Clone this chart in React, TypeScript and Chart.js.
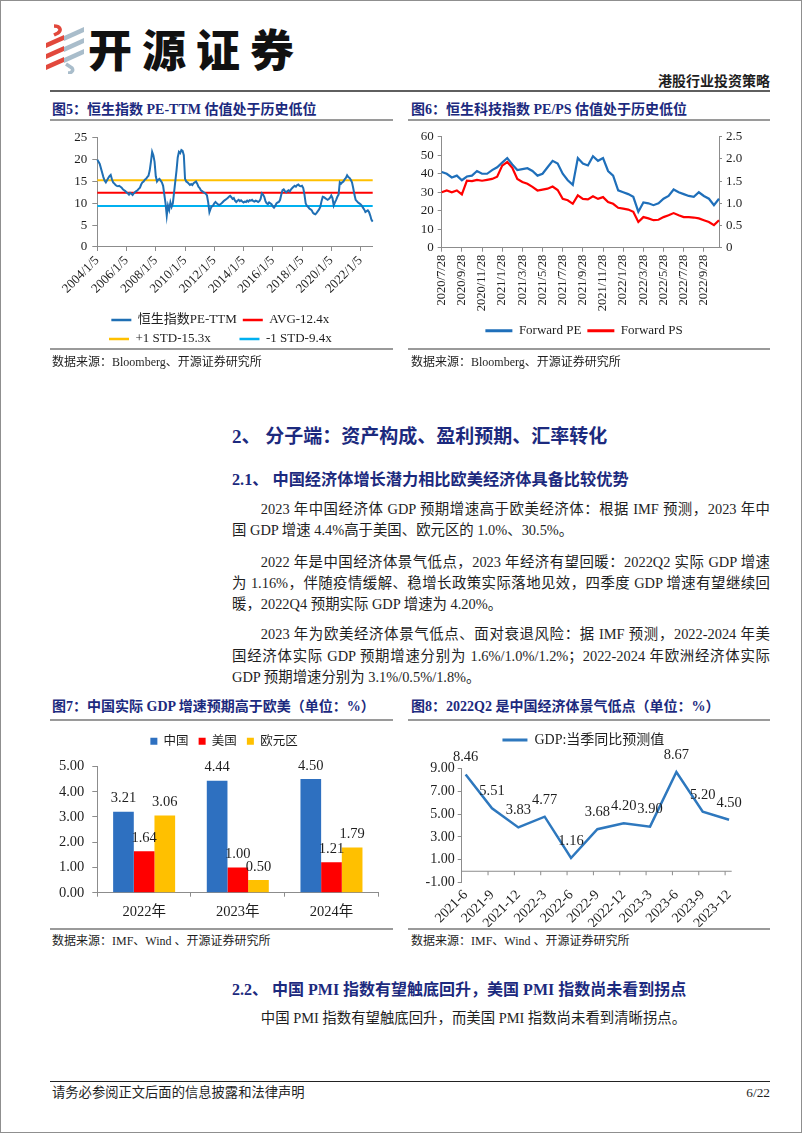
import React, { useEffect, useRef } from "react";
import { Chart, registerables } from "chart.js";

Chart.register(...registerables);

const SERIF = '"Liberation Serif", "Noto Sans CJK SC", serif';
const NAVY = "#1C2A7E";
const AXIS = "#8C8C8C";
const TXT = "#1E1E1E";
Chart.defaults.font.family = SERIF;

// ---------------- 图5 恒生指数 PE-TTM (monthly readings) ----------------
const peYears = [2004, 2005, 2006, 2007, 2008, 2009, 2010, 2011, 2012, 2013, 2014, 2015, 2016, 2017, 2018, 2019, 2020, 2021, 2022];
const pe2004 = [20.0, 19.5, 19.0, 18.0, 17.0, 16.0, 15.2, 14.8, 15.3, 15.8, 16.2, 16.5];
const pe2005 = [15.5, 14.8, 14.5, 14.2, 14.0, 13.9, 14.0, 13.8, 13.6, 13.2, 13.0, 12.8];
const pe2006 = [12.5, 12.3, 12.0, 12.4, 12.2, 11.9, 12.3, 12.6, 12.8, 13.0, 13.3, 13.6];
const pe2007 = [14.3, 14.8, 15.0, 15.4, 15.6, 16.0, 16.3, 17.5, 19.5, 21.8, 21.0, 19.5];
const pe2008 = [16.2, 15.0, 15.4, 15.6, 15.2, 14.8, 14.0, 12.0, 10.0, 7.2, 9.5, 8.5];
const pe2009 = [10.2, 9.2, 10.0, 12.5, 15.0, 17.5, 20.5, 21.8, 21.5, 22.2, 22.0, 21.0];
const pe2010 = [15.6, 15.0, 14.8, 14.5, 14.2, 14.4, 14.2, 14.6, 14.8, 15.0, 14.5, 13.8];
const pe2011 = [13.5, 13.0, 12.8, 12.6, 12.4, 12.2, 11.8, 10.2, 8.0, 8.8, 9.3, 9.5];
const pe2012 = [10.0, 10.3, 10.0, 9.8, 9.6, 9.8, 10.0, 10.3, 10.6, 10.8, 11.0, 11.2];
const pe2013 = [11.5, 11.7, 11.4, 11.0, 11.2, 10.6, 10.3, 10.6, 10.8, 10.5, 10.7, 10.4];
const pe2014 = [10.2, 10.4, 10.3, 10.6, 10.4, 10.7, 10.6, 10.8, 10.5, 10.4, 10.6, 10.5];
const pe2015 = [10.3, 10.5, 11.0, 12.3, 12.0, 11.5, 10.5, 10.0, 9.8, 10.2, 10.0, 9.8];
const pe2016 = [9.3, 9.0, 9.4, 10.0, 10.2, 10.3, 10.8, 12.0, 13.0, 13.2, 12.8, 12.5];
const pe2017 = [12.8, 13.0, 12.7, 13.2, 13.5, 13.8, 14.0, 13.8, 14.2, 14.3, 14.0, 13.9];
const pe2018 = [14.0, 13.5, 12.0, 10.0, 9.4, 9.2, 8.8, 8.6, 8.4, 7.8, 7.6, 7.5];
const pe2019 = [7.8, 8.2, 8.6, 9.2, 10.5, 11.5, 11.4, 11.2, 11.0, 10.8, 11.0, 11.3];
const pe2020 = [11.8, 11.2, 9.5, 10.2, 10.8, 11.5, 12.0, 14.8, 14.5, 14.8, 15.0, 15.5];
const pe2021 = [15.8, 16.4, 16.0, 15.8, 15.4, 14.8, 13.5, 12.0, 10.8, 10.5, 10.2, 10.0];
const pe2022 = [9.8, 9.5, 9.0, 8.6, 8.0, 8.2, 8.4, 8.0, 7.2, 6.2, 5.8];
const peByYear = [pe2004, pe2005, pe2006, pe2007, pe2008, pe2009, pe2010, pe2011, pe2012, pe2013, pe2014, pe2015, pe2016, pe2017, pe2018, pe2019, pe2020, pe2021, pe2022];
const peTickLabels = ["2004/1/5", "2006/1/5", "2008/1/5", "2010/1/5", "2012/1/5", "2014/1/5", "2016/1/5", "2018/1/5", "2020/1/5", "2022/1/5"];
const PE_AVG = 12.4;
const PE_UP = 15.3;
const PE_DOWN = 9.4;

const peLabels: string[] = [];
const peValues: number[] = [];
peYears.forEach((yr, k) =>
  peByYear[k].forEach((v, m) => {
    peLabels.push(`${yr}/${m + 1}/5`);
    peValues.push(v);
  })
);

// ---------------- 图6 恒生科技指数 Forward PE / PS (semi-monthly readings) ----------------
const techPE2020 = [41, 40, 38, 39, 36.5, 38.5, 39, 41.5, 40, 40, 42];
const techPE2021 = [43.5, 46, 48.5, 45, 42, 42.5, 43, 41.5, 39, 40, 43.5, 47, 45.5, 40, 36.5, 34, 48.5, 45.5, 44.5, 49.5, 47, 48.5, 41.5, 39];
const techPE2022 = [31, 30, 29, 27.5, 19.5, 24.5, 24, 23, 24, 26.5, 28, 31.5, 30, 29, 28, 27.5, 30, 28, 26.5, 23, 26.5];
const techPS2020 = [1.25, 1.29, 1.25, 1.29, 1.2, 1.51, 1.5, 1.53, 1.51, 1.53, 1.55];
const techPS2021 = [1.6, 1.85, 1.93, 1.8, 1.55, 1.48, 1.44, 1.37, 1.29, 1.31, 1.33, 1.38, 1.3, 1.1, 1.07, 0.99, 1.18, 1.1, 1.09, 1.16, 1.1, 1.14, 1.03, 0.99];
const techPS2022 = [0.9, 0.88, 0.86, 0.81, 0.58, 0.69, 0.66, 0.62, 0.63, 0.69, 0.73, 0.78, 0.73, 0.69, 0.69, 0.68, 0.66, 0.62, 0.58, 0.51, 0.62];
const techTickLabels = ["2020/7/28", "2020/9/28", "2020/11/28", "2021/1/28", "2021/3/28", "2021/5/28", "2021/7/28", "2021/9/28", "2021/11/28", "2022/1/28", "2022/3/28", "2022/5/28", "2022/7/28", "2022/9/28"];
const techPE = [...techPE2020, ...techPE2021, ...techPE2022];
const techPS = [...techPS2020, ...techPS2021, ...techPS2022];
const techLabels: string[] = ["2020/7/28"];
{
  let y = 2020;
  let m = 8;
  while (y < 2022 || (y === 2022 && m <= 11)) {
    techLabels.push(`${y}/${m}/13`);
    if (!(y === 2022 && m === 11)) techLabels.push(`${y}/${m}/28`);
    m++;
    if (m > 12) {
      m = 1;
      y++;
    }
  }
}

// ---------------- 图7 GDP 增速预期 ----------------
const gdpYears = ["2022年", "2023年", "2024年"];
const gdpChina = [3.21, 4.44, 4.5];
const gdpUS = [1.64, 1.0, 1.21];
const gdpEuro = [3.06, 0.5, 1.79];

// ---------------- 图8 GDP 当季同比预测值 ----------------
const quarterLabels = ["2021-6", "2021-9", "2021-12", "2022-3", "2022-6", "2022-9", "2022-12", "2023-3", "2023-6", "2023-9", "2023-12"];
const quarterGDP = [8.46, 5.51, 3.83, 4.77, 1.16, 3.68, 4.2, 3.9, 8.67, 5.2, 4.5];

// ---------------- helpers ----------------
const font = (size: number) => ({ family: SERIF, size });
const lineLegendLabels = (chart: any) =>
  Chart.defaults.plugins.legend.labels.generateLabels(chart).map((it: any) => ({ ...it, lineWidth: 0, fillStyle: it.strokeStyle }));
const spacer = (size: number) => ({ display: true, text: "", position: "top", weight: 500, padding: 0, font: { size, lineHeight: 1.2 } });
const axisGrid = (tickLength: number) => ({ drawOnChartArea: false, drawTicks: true, tickLength, color: AXIS, tickColor: AXIS });

const legendShift = (dx: number) => ({
  id: "legendShift",
  afterLayout(chart: any) {
    const l = chart.legend;
    if (l) {
      l.left += dx;
      l.right += dx;
    }
  },
});

const barLabelPlugin = {
  id: "barLabels",
  afterDatasetsDraw(chart: any) {
    const { ctx } = chart;
    ctx.save();
    ctx.font = `14.5px ${SERIF}`;
    ctx.fillStyle = TXT;
    ctx.textAlign = "center";
    ctx.textBaseline = "middle";
    chart.data.datasets.forEach((ds: any, di: number) => {
      chart.getDatasetMeta(di).data.forEach((el: any, i: number) => {
        ctx.fillText(Number(ds.data[i]).toFixed(2), el.x, el.y - 13);
      });
    });
    ctx.restore();
  },
};

const pointLabelPlugin = {
  id: "pointLabels",
  afterDatasetsDraw(chart: any) {
    const { ctx } = chart;
    ctx.save();
    ctx.font = `14.5px ${SERIF}`;
    ctx.fillStyle = TXT;
    ctx.textAlign = "center";
    ctx.textBaseline = "middle";
    const ds = chart.data.datasets[0];
    chart.getDatasetMeta(0).data.forEach((el: any, i: number) => {
      ctx.fillText(Number(ds.data[i].y).toFixed(2), el.x, el.y - 17);
    });
    ctx.restore();
  },
};

const zeroLinePlugin = {
  id: "zeroLine",
  beforeDatasetsDraw(chart: any) {
    const { ctx, chartArea, scales } = chart;
    const y0 = scales.y.getPixelForValue(0);
    ctx.save();
    ctx.strokeStyle = AXIS;
    ctx.lineWidth = 1;
    ctx.beginPath();
    ctx.moveTo(chartArea.left, y0);
    ctx.lineTo(chartArea.right, y0);
    quarterLabels.forEach((_, i) => {
      if (i === 0) return;
      const x = scales.x.getPixelForValue(i - 0.15);
      ctx.moveTo(x, y0);
      ctx.lineTo(x, y0 + 4);
    });
    ctx.stroke();
    ctx.restore();
  },
};

function makeFig5(): any {
  const n = peLabels.length;
  const hline = (label: string, value: number, color: string) => ({
    label,
    data: [
      { x: peLabels[0], y: value },
      { x: peLabels[n - 1], y: value },
    ],
    borderColor: color,
    backgroundColor: color,
    borderWidth: 2,
    pointRadius: 0,
    fill: false,
  });
  return {
    type: "line",
    data: {
      labels: peLabels,
      datasets: [
        { label: "恒生指数PE-TTM", data: peValues, borderColor: "#1F6FB4", backgroundColor: "#1F6FB4", borderWidth: 2, pointRadius: 0, fill: false, tension: 0 },
        hline("AVG-12.4x", PE_AVG, "#FF0000"),
        hline("+1 STD-15.3x", PE_UP, "#FFC000"),
        hline("-1 STD-9.4x", PE_DOWN, "#00B0F0"),
      ],
    },
    options: {
      responsive: true,
      maintainAspectRatio: false,
      animation: false,
      layout: { padding: { left: 18, right: 20.3, top: 10, bottom: 9.5 } },
      plugins: {
        tooltip: { enabled: false },
        legend: {
          position: "bottom",
          labels: {
            boxWidth: 20,
            boxHeight: 2.5,
            padding: 6,
            color: TXT,
            font: font(13),
            generateLabels: (chart: any) => {
              const items = lineLegendLabels(chart);
              const ctx = chart.ctx;
              ctx.save();
              ctx.font = `13px ${SERIF}`;
              const target = ctx.measureText(items[0].text).width;
              let t = items[2].text;
              while (ctx.measureText(t + " ").width <= target + 1) t += " ";
              ctx.restore();
              items[2].text = t;
              return items;
            },
          },
        },
      },
      scales: {
        x: {
          type: "category",
          ticks: {
            autoSkip: false,
            maxRotation: 45,
            minRotation: 45,
            padding: 2,
            color: TXT,
            font: font(13),
            callback: (v: any) => (peTickLabels.includes(peLabels[v]) ? peLabels[v] : null),
          },
          grid: axisGrid(4),
          border: { display: true, color: AXIS },
          afterFit: (s: any) => {
            s.height = 60.5;
          },
        },
        y: {
          min: 0,
          max: 25,
          ticks: { stepSize: 5, autoSkip: false, padding: 5, color: TXT, font: font(13) },
          grid: axisGrid(5),
          border: { display: true, color: AXIS },
          afterFit: (s: any) => {
            s.width = 29.3;
          },
        },
      },
    },
  };
}

function makeFig6(): any {
  return {
    type: "line",
    data: {
      labels: techLabels,
      datasets: [
        { label: "Forward PE", data: techPE, yAxisID: "y", borderColor: "#1F6FBA", backgroundColor: "#1F6FBA", borderWidth: 2.2, pointRadius: 0, fill: false, order: 1 },
        { label: "Forward PS", data: techPS, yAxisID: "y1", borderColor: "#FF0000", backgroundColor: "#FF0000", borderWidth: 2.2, pointRadius: 0, fill: false, order: 0 },
      ],
    },
    options: {
      responsive: true,
      maintainAspectRatio: false,
      animation: false,
      layout: { padding: { left: 7, right: 0, top: 11, bottom: 17.8 } },
      plugins: {
        tooltip: { enabled: false },
        legend: {
          position: "bottom",
          labels: { boxWidth: 27, boxHeight: 3, padding: 6, color: TXT, font: font(13), generateLabels: lineLegendLabels, sort: (a: any, b: any) => a.datasetIndex - b.datasetIndex },
        },
      },
      scales: {
        x: {
          type: "category",
          ticks: {
            autoSkip: false,
            maxRotation: 90,
            minRotation: 90,
            padding: 3,
            color: TXT,
            font: font(12.5),
            callback: (v: any) => (techTickLabels.includes(techLabels[v]) ? techLabels[v] : null),
          },
          grid: axisGrid(4),
          border: { display: true, color: AXIS },
          afterFit: (s: any) => {
            s.height = 70.5;
          },
        },
        y: {
          position: "left",
          min: 0,
          max: 60,
          ticks: { stepSize: 10, autoSkip: false, padding: 4, color: TXT, font: font(13) },
          grid: axisGrid(4),
          border: { display: true, color: AXIS },
          afterFit: (s: any) => {
            s.width = 26.7;
          },
        },
        y1: {
          position: "right",
          min: 0,
          max: 2.5,
          ticks: { stepSize: 0.5, autoSkip: false, padding: 4, color: TXT, font: font(13) },
          grid: axisGrid(3),
          border: { display: true, color: AXIS },
          afterFit: (s: any) => {
            s.width = 34;
          },
        },
      },
    },
  };
}

function makeFig7(): any {
  return {
    type: "bar",
    data: {
      labels: gdpYears,
      datasets: [
        { label: "中国", data: gdpChina, backgroundColor: "#2E70C0" },
        { label: "美国", data: gdpUS, backgroundColor: "#FF0000" },
        { label: "欧元区", data: gdpEuro, backgroundColor: "#FFC000" },
      ],
    },
    options: {
      responsive: true,
      maintainAspectRatio: false,
      animation: false,
      datasets: { bar: { categoryPercentage: 0.662, barPercentage: 1 } },
      layout: { padding: { left: 7.3, right: 14.7, top: 3, bottom: 0 } },
      plugins: {
        tooltip: { enabled: false },
        title: spacer(7.5),
        legend: { position: "top", labels: { boxWidth: 7, boxHeight: 7, padding: 10, color: TXT, font: font(12.5) } },
      },
      scales: {
        x: {
          ticks: { padding: 7, color: TXT, font: font(14.5) },
          grid: axisGrid(4),
          border: { display: true, color: AXIS },
          afterFit: (s: any) => {
            s.height = 34.3;
          },
        },
        y: {
          min: 0,
          max: 5,
          ticks: { stepSize: 1, autoSkip: false, padding: 8, color: TXT, font: font(14.5), callback: (v: any) => Number(v).toFixed(2) },
          grid: axisGrid(5),
          border: { display: true, color: AXIS },
          afterFit: (s: any) => {
            s.width = 40;
          },
        },
      },
    },
    plugins: [barLabelPlugin, legendShift(6.2)],
  };
}

function makeFig8(): any {
  return {
    type: "line",
    data: {
      datasets: [
        {
          label: "GDP:当季同比预测值",
          data: quarterGDP.map((v, i) => ({ x: i, y: v })),
          borderColor: "#2E78BE",
          backgroundColor: "#2E78BE",
          borderWidth: 2.5,
          pointRadius: 0,
          fill: false,
          tension: 0,
        },
      ],
    },
    options: {
      responsive: true,
      maintainAspectRatio: false,
      animation: false,
      layout: { padding: { left: 15.7, right: 21.3, top: 5, bottom: 0 } },
      plugins: {
        tooltip: { enabled: false },
        title: spacer(9.42),
        legend: { position: "top", labels: { boxWidth: 25, boxHeight: 3, padding: 6, color: TXT, font: font(14), generateLabels: lineLegendLabels } },
      },
      scales: {
        x: {
          type: "linear",
          min: -0.15,
          max: 10.1,
          afterBuildTicks: (s: any) => {
            s.ticks = quarterLabels.map((_, i) => ({ value: i }));
          },
          ticks: {
            autoSkip: false,
            maxRotation: 45,
            minRotation: 45,
            padding: 4,
            color: TXT,
            font: font(14),
            callback: (v: any) => quarterLabels[v] ?? "",
          },
          grid: { display: false, drawTicks: false },
          border: { display: false },
          afterFit: (s: any) => {
            s.height = 44.3;
          },
        },
        y: {
          min: -1,
          max: 9,
          ticks: { stepSize: 2, autoSkip: false, padding: 3, color: TXT, font: font(14), callback: (v: any) => Number(v).toFixed(2) },
          grid: axisGrid(4),
          border: { display: true, color: AXIS },
          afterFit: (s: any) => {
            s.width = 38;
          },
        },
      },
    },
    plugins: [zeroLinePlugin, pointLabelPlugin, legendShift(5.7)],
  };
}

// ---------------- layout components ----------------
function ChartBox({ left, top, width, height, make }: { left: number; top: number; width: number; height: number; make: () => any }) {
  const ref = useRef<HTMLCanvasElement>(null);
  useEffect(() => {
    if (!ref.current) return;
    const chart = new Chart(ref.current, make());
    return () => chart.destroy();
  }, [make]);
  return (
    <div style={{ position: "absolute", left, top, width, height }}>
      <canvas ref={ref} />
    </div>
  );
}

function Txt({ x, y, size, bold, color, right, children, lh = 22 }: { x: number; y: number; size: number; bold?: boolean; color?: string; right?: boolean; children: React.ReactNode; lh?: number }) {
  return (
    <div
      style={{
        position: "absolute",
        top: y - lh / 2,
        left: right ? undefined : x,
        right: right ? 802 - x : undefined,
        fontSize: size,
        lineHeight: `${lh}px`,
        fontWeight: bold ? 700 : 400,
        color: color || TXT,
        whiteSpace: "nowrap",
      }}
    >
      {children}
    </div>
  );
}

function Line({ x, y, w, h, color }: { x: number; y: number; w: number; h: number; color: string }) {
  return <div style={{ position: "absolute", left: x, top: y - h / 2, width: w, height: h, background: color }} />;
}

const BODY_LEFT = 232;
const BODY_RIGHT = 770;
const BODY_SIZE = 14.4;

function Para({ y, text, indent, last }: { y: number; text: string; indent?: boolean; last?: boolean }) {
  return (
    <div
      style={{
        position: "absolute",
        left: BODY_LEFT,
        top: y - 11,
        width: BODY_RIGHT - BODY_LEFT,
        fontSize: BODY_SIZE,
        lineHeight: "22px",
        whiteSpace: "nowrap",
        textAlign: "justify",
        textAlignLast: last ? "left" : "justify",
        textIndent: indent ? BODY_SIZE * 2 : 0,
        color: TXT,
      }}
    >
      {text}
    </div>
  );
}

function Logo() {
  const red = "#E2483C";
  const grey = "#A9BDCB";
  return (
    <svg style={{ position: "absolute", left: 44, top: 24 }} width={44} height={50} viewBox="0 0 44 50">
      <path d="M10 2 C16 2 18 6 14 9 L10 11" stroke={red} strokeWidth={3.5} fill="none" />
      <polygon points="2,19 20,11 20,16 2,24" fill={red} />
      <polygon points="2,30 20,22 20,27 2,35" fill={red} />
      <polygon points="2,41 20,33 20,38 2,46" fill={red} />
      <polygon points="20,12 40,3 40,8 20,17" fill={grey} />
      <polygon points="20,23 40,14 40,19 20,28" fill={grey} />
      <polygon points="20,34 40,25 40,30 20,39" fill={grey} />
      <path d="M22 40 L28 44 C30 47 27 49 24 49" stroke={grey} strokeWidth={3.5} fill="none" />
    </svg>
  );
}

export default function App() {
  const R = BODY_RIGHT;
  return (
    <div style={{ position: "absolute", left: 0, top: 0, width: 802, height: 1133, background: "#fff", overflow: "hidden", fontFamily: SERIF, color: TXT }}>
      <div style={{ position: "absolute", left: 0, top: 0, right: 0, bottom: 0, border: "1px solid #8f8f8f", pointerEvents: "none" }} />
      <Logo />
      <div style={{ position: "absolute", left: 88, top: 22, fontSize: 44, lineHeight: "52px", fontWeight: 900, letterSpacing: 10, color: "#111", fontFamily: '"Noto Sans CJK SC", sans-serif', whiteSpace: "nowrap" }}>开源证券</div>
      <Txt x={R} y={82} size={14} bold right>港股行业投资策略</Txt>
      <Line x={50} y={91} w={R - 50} h={2} color="#5f5f5f" />

      <Txt x={52} y={110} size={14} bold color={NAVY}>图5：恒生指数 PE-TTM 估值处于历史低位</Txt>
      <Txt x={411} y={110} size={14} bold color={NAVY}>图6：恒生科技指数 PE/PS 估值处于历史低位</Txt>
      <Line x={50} y={120} w={343} h={2} color="#9a9a9a" />
      <Line x={408} y={120} w={R - 408} h={2} color="#9a9a9a" />
      <ChartBox left={50} top={125} width={343} height={240} make={makeFig5} />
      <ChartBox left={408} top={125} width={345} height={240} make={makeFig6} />
      <Line x={50} y={349} w={343} h={1.5} color="#9a9a9a" />
      <Line x={408} y={349} w={R - 408} h={1.5} color="#9a9a9a" />
      <Txt x={52} y={362} size={12}>数据来源：Bloomberg、开源证券研究所</Txt>
      <Txt x={411} y={362} size={12}>数据来源：Bloomberg、开源证券研究所</Txt>

      <Txt x={232} y={437} size={19} bold color={NAVY}>2、 分子端：资产构成、盈利预期、汇率转化</Txt>
      <Txt x={232} y={480} size={16.2} bold color={NAVY}>2.1、 中国经济体增长潜力相比欧美经济体具备比较优势</Txt>

      <Para y={509} indent text="2023 年中国经济体 GDP 预期增速高于欧美经济体：根据 IMF 预测，2023 年中" />
      <Para y={530} last text="国 GDP 增速 4.4%高于美国、欧元区的 1.0%、30.5%。" />
      <Para y={562} indent text="2022 年是中国经济体景气低点，2023 年经济有望回暖：2022Q2 实际 GDP 增速" />
      <Para y={583} text="为 1.16%，伴随疫情缓解、稳增长政策实际落地见效，四季度 GDP 增速有望继续回" />
      <Para y={604} last text="暖，2022Q4 预期实际 GDP 增速为 4.20%。" />
      <Para y={634} indent text="2023 年为欧美经济体景气低点、面对衰退风险：据 IMF 预测，2022-2024 年美" />
      <Para y={656} text="国经济体实际 GDP 预期增速分别为 1.6%/1.0%/1.2%；2022-2024 年欧洲经济体实际" />
      <Para y={677} last text="GDP 预期增速分别为 3.1%/0.5%/1.8%。" />

      <Txt x={52} y={707} size={14} bold color={NAVY}>图7：中国实际 GDP 增速预期高于欧美（单位：%）</Txt>
      <Txt x={411} y={707} size={14} bold color={NAVY}>图8：2022Q2 是中国经济体景气低点（单位：%）</Txt>
      <Line x={50} y={720} w={343} h={2} color="#9a9a9a" />
      <Line x={408} y={720} w={R - 408} h={2} color="#9a9a9a" />
      <ChartBox left={50} top={722} width={343} height={205} make={makeFig7} />
      <ChartBox left={408} top={722} width={345} height={205} make={makeFig8} />
      <Line x={50} y={929} w={343} h={1.5} color="#9a9a9a" />
      <Line x={408} y={929} w={R - 408} h={1.5} color="#9a9a9a" />
      <Txt x={52} y={941} size={12}>数据来源：IMF、Wind 、开源证券研究所</Txt>
      <Txt x={411} y={941} size={12}>数据来源：IMF、Wind 、开源证券研究所</Txt>

      <Txt x={232} y={990} size={16} bold color={NAVY}>2.2、 中国 PMI 指数有望触底回升，美国 PMI 指数尚未看到拐点</Txt>
      <Para y={1018} indent last text="中国 PMI 指数有望触底回升，而美国 PMI 指数尚未看到清晰拐点。" />

      <Line x={50} y={1081} w={R - 50} h={1} color="#222" />
      <Txt x={52} y={1093} size={13.3}>请务必参阅正文后面的信息披露和法律声明</Txt>
      <Txt x={R} y={1093} size={13.3} right>6/22</Txt>
    </div>
  );
}
